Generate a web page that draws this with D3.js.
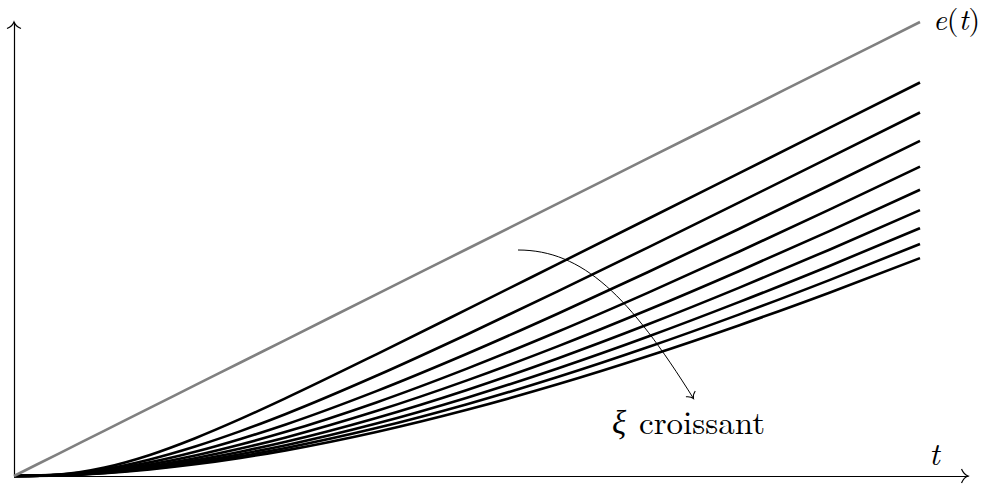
<!DOCTYPE html>
<html>
<head>
<meta charset="utf-8">
<script src="https://cdn.jsdelivr.net/npm/d3@7"></script>
<style>
  html, body { margin: 0; padding: 0; background: #fff; }
  svg { display: block; }
</style>
</head>
<body>
<svg id="chart" width="984" height="485"></svg>
<script>
// Time samples shared by every curve
const tSamples = [0, 0.5, 1, 1.5, 2, 2.5, 3, 4, 5, 6, 7, 8, 9, 10];

// Ramp input e(t)
const ramp = [0, 0.5, 1, 1.5, 2, 2.5, 3, 4, 5, 6, 7, 8, 9, 10];

// Damping factors, one response per value
const xiValues = [1, 1.5, 2, 2.5, 3, 3.5, 4, 4.5, 5];

// Output responses s(t) to the ramp, one array per damping factor
const sXi10 = [0, 0.033, 0.187, 0.465, 0.833, 1.257, 1.715, 2.680, 3.670, 4.668, 5.667, 6.667, 7.667, 8.667];
const sXi15 = [0, 0.028, 0.151, 0.365, 0.650, 0.988, 1.366, 2.207, 3.117, 4.066, 5.037, 6.021, 7.012, 8.007];
const sXi20 = [0, 0.025, 0.127, 0.300, 0.533, 0.815, 1.136, 1.870, 2.693, 3.574, 4.494, 5.441, 6.405, 7.382];
const sXi25 = [0, 0.022, 0.109, 0.255, 0.452, 0.694, 0.972, 1.621, 2.365, 3.177, 4.040, 4.940, 5.866, 6.813];
const sXi30 = [0, 0.020, 0.095, 0.221, 0.393, 0.604, 0.850, 1.430, 2.106, 2.855, 3.661, 4.511, 5.395, 6.305];
const sXi35 = [0, 0.018, 0.084, 0.196, 0.347, 0.535, 0.755, 1.279, 1.896, 2.589, 3.342, 4.144, 4.985, 5.857];
const sXi40 = [0, 0.017, 0.076, 0.175, 0.311, 0.480, 0.679, 1.156, 1.725, 2.368, 3.072, 3.829, 4.627, 5.460];
const sXi45 = [0, 0.015, 0.069, 0.159, 0.282, 0.435, 0.617, 1.055, 1.581, 2.180, 2.841, 3.555, 4.314, 5.110];
const sXi50 = [0, 0.014, 0.063, 0.145, 0.258, 0.398, 0.565, 0.970, 1.459, 2.019, 2.642, 3.317, 4.038, 4.799];

const responses = [sXi10, sXi15, sXi20, sXi25, sXi30, sXi35, sXi40, sXi45, sXi50];

// Axis extents and labels
const tAxisMax = 10.53;
const yAxisMax = 10;
const inputLabel = "e(t)";
const timeLabel = "t";
const dampingSymbol = "ξ";
const annotationLabel = "croissant";

const serif = "Latin Modern Roman";

const svg = d3.select("#chart");

const x = d3.scaleLinear().domain([0, 10]).range([14, 920]);
const y = d3.scaleLinear().domain([0, 10]).range([476, 22]);

// Arrow tip pointing along +x with curved barbs, tip at the origin
function tipPath(len, half) {
  return `M${-len},${-half} C${-len * 0.7},${-half * 0.35} ${-len * 0.25},${-half * 0.08} 0,0 ` +
         `C${-len * 0.25},${half * 0.08} ${-len * 0.7},${half * 0.35} ${-len},${half}`;
}

// Axes (domain lines only, no ticks)
const xAxisScale = d3.scaleLinear().domain([0, tAxisMax]).range([x(0), x(tAxisMax)]);
const yAxisScale = d3.scaleLinear().domain([0, yAxisMax]).range([y(0), y(yAxisMax)]);

const gx = svg.append("g")
  .attr("transform", `translate(0,${y(0)})`)
  .call(d3.axisBottom(xAxisScale).tickValues([]).tickSizeOuter(0));
const gy = svg.append("g")
  .attr("transform", `translate(${x(0)},0)`)
  .call(d3.axisLeft(yAxisScale).tickValues([]).tickSizeOuter(0));
[gx, gy].forEach(g => g.select(".domain").attr("stroke", "#000").attr("stroke-width", 1.2));

svg.append("path")
  .attr("d", tipPath(6.5, 7))
  .attr("transform", `translate(${x(tAxisMax)},${y(0)})`)
  .attr("fill", "none").attr("stroke", "#000").attr("stroke-width", 1.2);
svg.append("path")
  .attr("d", tipPath(6.5, 7))
  .attr("transform", `translate(${x(0)},${y(yAxisMax)}) rotate(-90)`)
  .attr("fill", "none").attr("stroke", "#000").attr("stroke-width", 1.2);

const line = d3.line()
  .x((d, i) => x(tSamples[i]))
  .y(d => y(d))
  .curve(d3.curveMonotoneX);

// Responses for increasing damping
svg.append("g")
  .selectAll("path")
  .data(responses)
  .join("path")
  .attr("d", d => line(d))
  .attr("fill", "none")
  .attr("stroke", "#000")
  .attr("stroke-width", 2.6)
  .attr("stroke-linejoin", "round");

// Ramp input
svg.append("path")
  .attr("d", line(ramp))
  .attr("fill", "none")
  .attr("stroke", "#808080")
  .attr("stroke-width", 2.6);

// Input label
const eLab = svg.append("text")
  .attr("x", 933)
  .attr("y", 30)
  .attr("font-family", serif)
  .attr("font-size", 30);
eLab.append("tspan").attr("font-style", "italic").text(inputLabel[0]);
eLab.append("tspan").text(inputLabel[1]);
eLab.append("tspan").attr("font-style", "italic").text(inputLabel[2]);
eLab.append("tspan").text(inputLabel[3]);

// Time axis label
svg.append("text")
  .attr("x", 929)
  .attr("y", 465)
  .attr("font-family", serif)
  .attr("font-size", 32)
  .attr("font-style", "italic")
  .text(timeLabel);

// Curved arrow showing the direction of increasing damping
const p0 = [518, 250], p3 = [693.5, 398.5];
const endAngle = 58 * Math.PI / 180;
const arc = d3.path();
arc.moveTo(p0[0], p0[1]);
arc.bezierCurveTo(p0[0] + 65, p0[1],
                  p3[0] - 120 * Math.cos(endAngle), p3[1] - 120 * Math.sin(endAngle),
                  p3[0], p3[1]);
svg.append("path")
  .attr("d", arc.toString())
  .attr("fill", "none")
  .attr("stroke", "#000")
  .attr("stroke-width", 1);
svg.append("path")
  .attr("d", tipPath(5.5, 5.5))
  .attr("transform", `translate(${p3[0]},${p3[1]}) rotate(58)`)
  .attr("fill", "none")
  .attr("stroke", "#000")
  .attr("stroke-width", 1);

// Annotation text
svg.append("text")
  .attr("x", 612)
  .attr("y", 434)
  .attr("font-family", "Liberation Serif")
  .attr("font-size", 33)
  .attr("font-style", "italic")
  .text(dampingSymbol);
svg.append("text")
  .attr("x", 639)
  .attr("y", 434)
  .attr("font-family", serif)
  .attr("font-size", 33)
  .text(annotationLabel);
</script>
</body>
</html>
